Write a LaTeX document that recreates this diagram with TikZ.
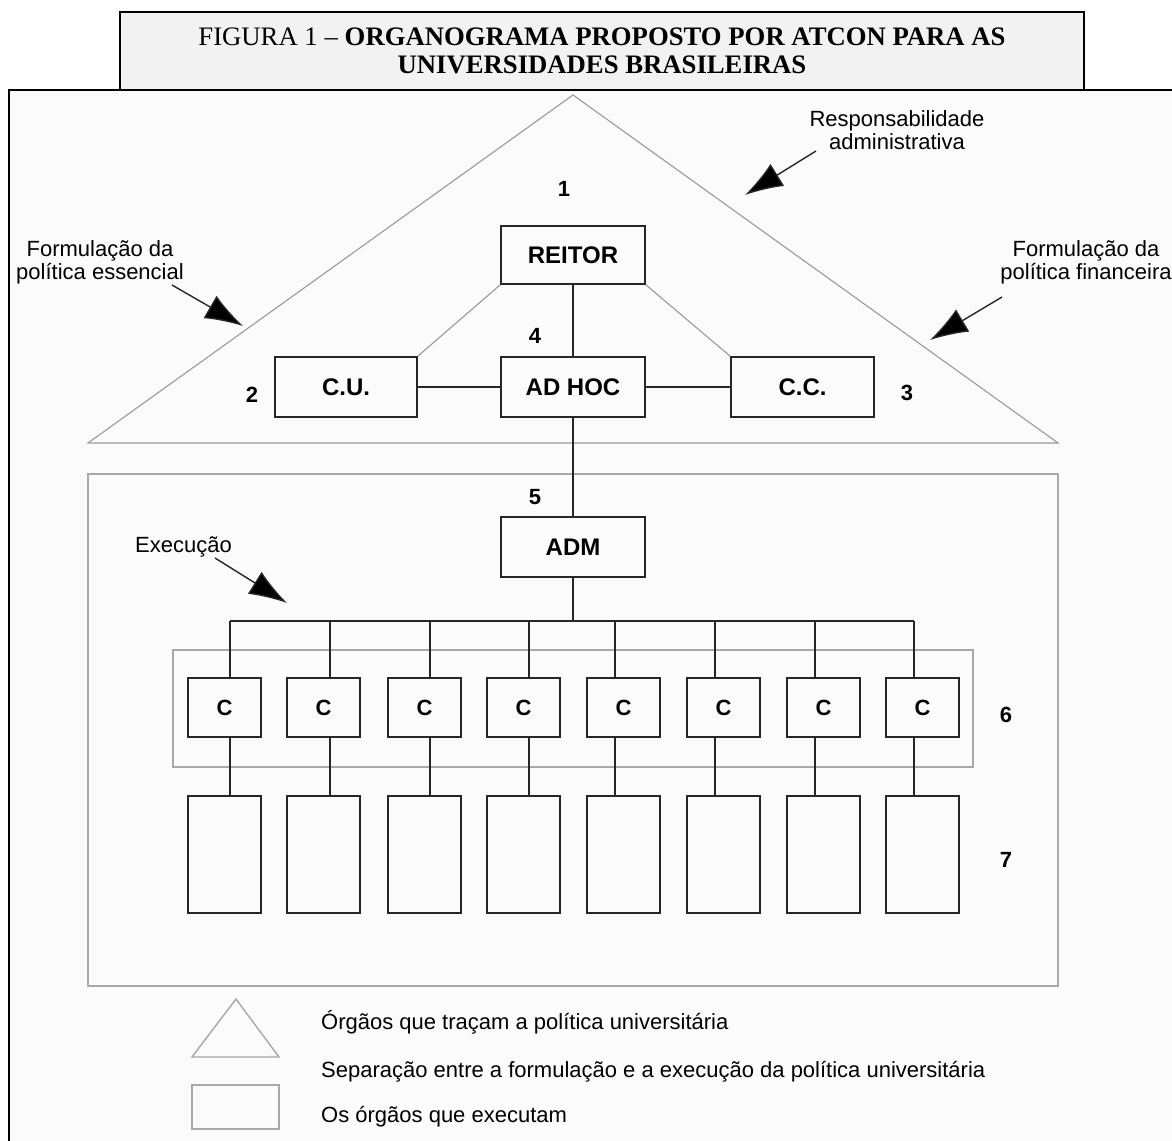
\documentclass[tikz,border=0pt]{standalone}
\usepackage{fontspec}
\setmainfont{Liberation Sans}
\newfontfamily\timesf{Liberation Serif}
\usetikzlibrary{arrows.meta}
\definecolor{titlebg}{HTML}{F2F2F2}
\definecolor{pagebg}{HTML}{FBFBFB}
\definecolor{lgray}{HTML}{A8A8A8}
\definecolor{tgray}{HTML}{9A9A9A}
\begin{document}
\begin{tikzpicture}[x=1pt,y=-1pt,
  orgbox/.style={draw=black!85, line width=1.6pt, inner sep=0pt, font=\fontsize{24}{28}\selectfont\bfseries},
  cbox/.style={orgbox, minimum width=73pt, minimum height=59pt, font=\fontsize{22}{26}\selectfont\bfseries},
  ebox/.style={orgbox, minimum width=73pt, minimum height=117pt},
  numlbl/.style={inner sep=0pt, font=\fontsize{22}{26}\selectfont\bfseries},
  note/.style={inner sep=0pt, align=center, font=\fontsize{22}{23}\selectfont},
  legtext/.style={inner sep=0pt, anchor=base west, font=\fontsize{22}{26}\selectfont},
  pointer/.style={draw=black!85, line width=1.4pt, -{Latex[length=38pt,width=26pt,fill=black]}},
  link/.style={draw=black!85, line width=1.6pt},
  glink/.style={draw=tgray, line width=1.1pt},
  gframe/.style={draw=lgray, line width=1.8pt}]
\useasboundingbox (0,0) rectangle (1172,1140);
\fill[white] (0,0) rectangle (1172,1140);
% main frame
\draw[line width=2pt, fill=pagebg] (9,90) rectangle (1200,1170);
% title
\node[draw, line width=2pt, fill=titlebg, minimum width=964pt, minimum height=78pt, inner sep=0pt,
      anchor=north west, align=center, font=\timesf\fontsize{26.7}{28.5}\selectfont] (title) at (119,11)
  {FIGURA 1 – \textbf{ORGANOGRAMA PROPOSTO POR ATCON PARA AS}\\ \textbf{UNIVERSIDADES BRASILEIRAS}};
% triangle and frames
\draw[glink] (573,95) -- (1058,443) -- (88,443) -- cycle;
\draw[gframe] (88,474) rectangle (1058,986);
\draw[gframe] (173,650) rectangle (973,767);
% upper boxes
\node[orgbox, minimum width=144pt, minimum height=58pt] (reitor) at (573,255) {REITOR};
\node[orgbox, minimum width=144pt, minimum height=60pt] (adhoc) at (573,387) {AD HOC};
\node[orgbox, minimum width=142pt, minimum height=60pt] (cu) at (346,387) {C.U.};
\node[orgbox, minimum width=143pt, minimum height=60pt] (cc) at (802.5,387) {C.C.};
\node[orgbox, minimum width=144pt, minimum height=60pt] (adm) at (573,547) {ADM};
% numbers
\node[numlbl] (n1) at (564,189) {1};
\node[numlbl] (n2) at (252,395) {2};
\node[numlbl] (n3) at (907,393) {3};
\node[numlbl] (n4) at (535,336) {4};
\node[numlbl] (n5) at (535,497) {5};
\node[numlbl] (n6) at (1006,715) {6};
\node[numlbl] (n7) at (1006,860) {7};
% upper links
\draw[link] (reitor.south) -- (adhoc.north);
\draw[glink] (reitor.south west) -- (cu.north east);
\draw[glink] (reitor.south east) -- (cc.north west);
\draw[link] (cu.east) -- (adhoc.west);
\draw[link] (adhoc.east) -- (cc.west);
\draw[link] (adhoc.south) -- (adm.north);
\coordinate (bus) at (573,621);
\draw[link] (adm.south) -- (bus);
% C row and executing organs
\foreach \i/\l/\x in {1/188/230,2/287/330,3/388/430,4/487/529,5/587/615,6/687/715,7/787/815,8/886/914}{
  \node[cbox] (c\i) at (\l+36.5,707.5) {C};
  \node[ebox] (e\i) at (\l+36.5,854.5) {};
  \coordinate (b\i) at (\x,621);
  \draw[link] (b\i) -- (b\i |- c\i.north);
  \draw[link] (b\i |- c\i.south) -- (b\i |- e\i.north);
}
\draw[link] (b1) -- (b8);
% annotations
\node[note] (ess) at (100,262) {Formulação da\\política essencial};
\node[note] (resp) at (897,130) {Responsabilidade\\administrativa};
\node[note] (fin) at (1086,262) {Formulação da\\política financeira};
\node[note, anchor=west] (exe) at (135,547) {Execução};
\coordinate (essA) at (172,285); \coordinate (essB) at (243,326);
\coordinate (respA) at (816,151); \coordinate (respB) at (745,195);
\coordinate (finA) at (1002,297); \coordinate (finB) at (930,340);
\coordinate (exeA) at (215,558); \coordinate (exeB) at (287,603);
\draw[pointer] (essA) -- (essB);
\draw[pointer] (respA) -- (respB);
\draw[pointer] (finA) -- (finB);
\draw[pointer] (exeA) -- (exeB);
% legend
\draw[gframe, line width=1.4pt] (236,999) -- (279,1057) -- (192,1057) -- cycle;
\draw[gframe, line width=1.4pt] (192,1085) rectangle (279,1129);
\node[legtext] (l1) at (321,1029) {Órgãos que traçam a política universitária};
\node[legtext] (l2) at (321,1077) {Separação entre a formulação e a execução da política universitária};
\node[legtext] (l3) at (321,1122) {Os órgãos que executam};
\end{tikzpicture}
\end{document}
